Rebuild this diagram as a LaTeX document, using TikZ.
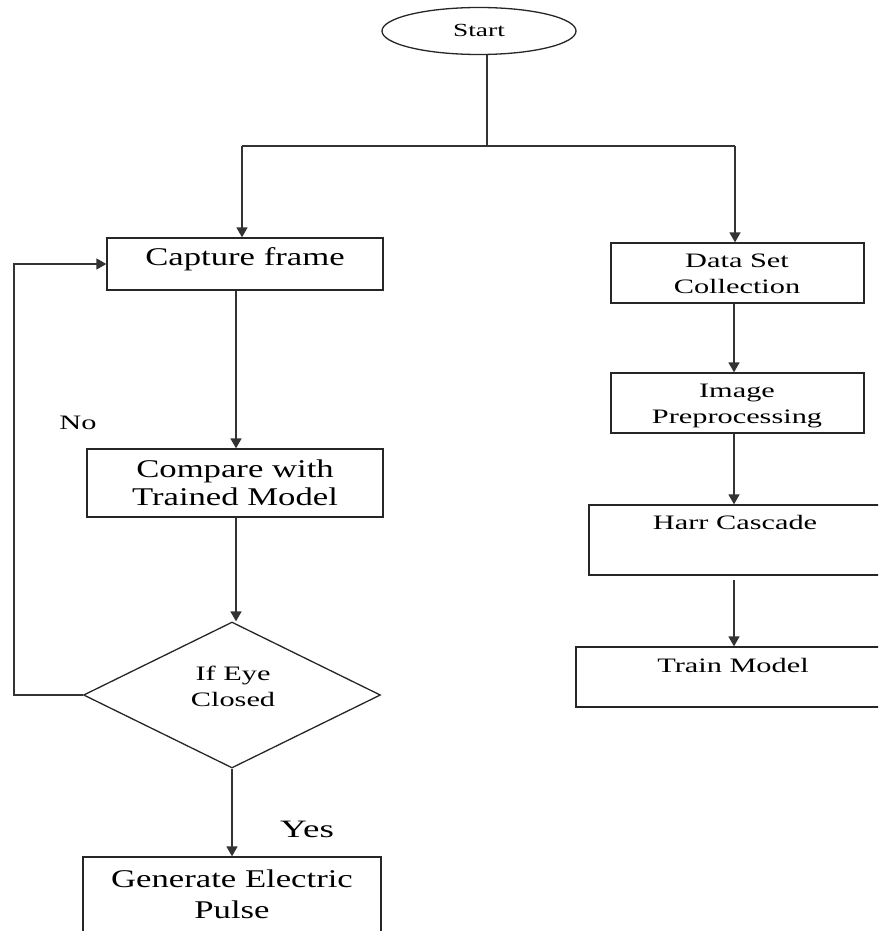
\documentclass[tikz,border=0pt]{standalone}
\usepackage{graphicx}
\usepackage{fontspec}
\setmainfont{Liberation Serif}
\usetikzlibrary{shapes.geometric,arrows.meta}
\newcommand{\hstrA}[1]{\scalebox{1.36}[1]{#1}}
\newcommand{\hstrB}[1]{\scalebox{1.48}[1]{#1}}
\tikzset{
  ln/.style={line width=1.6pt, draw=black!80},
  arr/.style={ln, -{Triangle[width=11pt,length=10pt]}},
  boxn/.style={draw=black!85, line width=1.3pt, rectangle, inner sep=0pt},
  txt/.style={anchor=base, inner sep=0pt},
  fa/.style={font=\fontsize{25.5}{28}\selectfont},
  fb/.style={font=\fontsize{20.5}{22}\selectfont},
  fc/.style={font=\fontsize{18.5}{20}\selectfont},
  fy/.style={font=\fontsize{25}{28}\selectfont},
}
\begin{document}
\begin{tikzpicture}[x=1pt,y=-1pt]
\useasboundingbox (0,0) rectangle (878,931);
\begin{scope}
\clip (0,0) rectangle (878,931);
% shapes
\node[ellipse, draw=black!85, line width=1.3pt, minimum width=194pt, minimum height=47pt, inner sep=0pt] (start) at (479,31) {};
\node[boxn, minimum width=276pt, minimum height=52pt] (cap) at (245,264) {};
\node[boxn, minimum width=296pt, minimum height=68pt] (cmp) at (235,483) {};
\node[diamond, draw=black!85, line width=1.3pt, minimum width=297pt, minimum height=146pt, inner sep=0pt] (dia) at (232,695) {};
\node[boxn, minimum width=298pt, minimum height=103pt] (gen) at (232,908.5) {};
\node[boxn, minimum width=253pt, minimum height=60pt] (ds) at (737.5,273) {};
\node[boxn, minimum width=253pt, minimum height=60pt] (img) at (737.5,403) {};
\node[boxn, minimum width=311pt, minimum height=70pt] (harr) at (744.5,540) {};
\node[boxn, minimum width=324pt, minimum height=60pt] (train) at (738,677) {};
% texts
\node[txt, fc] (tstart) at (479,37) {\hstrB{Start}};
\node[txt, fa] (tcap) at (245,265) {\hstrA{Capture frame}};
\node[txt, fa] (tcmp1) at (235,477) {\hstrA{Compare with}};
\node[txt, fa] (tcmp2) at (235,505) {\hstrA{Trained Model}};
\node[txt, fb] (tdia1) at (233,680) {\hstrB{If Eye}};
\node[txt, fb] (tdia2) at (233,706) {\hstrB{Closed}};
\node[txt, fa] (tgen1) at (232,887) {\hstrA{Generate Electric}};
\node[txt, fa] (tgen2) at (232,918) {\hstrA{Pulse}};
\node[txt, fb] (tds1) at (737,267) {\hstrB{Data Set}};
\node[txt, fb] (tds2) at (737,293) {\hstrB{Collection}};
\node[txt, fb] (timg1) at (737,397) {\hstrB{Image}};
\node[txt, fb] (timg2) at (737,423) {\hstrB{Preprocessing}};
\node[txt, fb] (tharr) at (735,529) {\hstrB{Harr Cascade}};
\node[txt, fb] (ttrain) at (733,672) {\hstrB{Train Model}};
\node[txt, fy] (tyes) at (307,837) {\hstrB{Yes}};
\node[txt, fb] (tno) at (78,429) {\hstrB{No}};
% connectors
\coordinate (j) at (487,146);
\coordinate (jl) at (242,146);
\coordinate (jr) at (735,146);
\coordinate (xc) at (236,0);
\coordinate (xr) at (734,0);
\draw[ln, line width=2.4pt] (j |- start.south) -- (j);
\draw[ln] (jl) -- (jr);
\draw[arr] (jl) -- (cap.north -| jl);
\draw[arr] (jr) -- (ds.north -| jr);
\draw[arr] (cap.south -| xc) -- (cmp.north -| xc);
\draw[arr] (cmp.south -| xc) -- (dia.north -| xc);
\draw[arr] (dia.south) -- (gen.north -| dia.south);
\draw[arr] (dia.west) -- ++(-69,0) |- (cap.west);
\draw[arr] (ds.south -| xr) -- (img.north -| xr);
\draw[arr] (img.south -| xr) -- (harr.north -| xr);
\draw[arr] ([yshift=-4pt]harr.south -| xr) -- (train.north -| xr);
\end{scope}
\end{tikzpicture}
\end{document}
